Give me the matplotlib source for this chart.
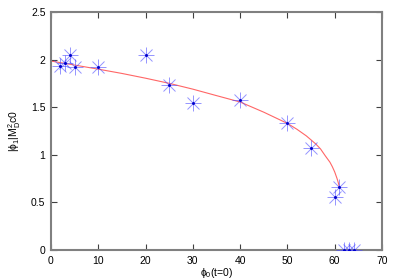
import matplotlib
matplotlib.use("Agg")
import matplotlib.pyplot as plt

plt.rcParams['font.family'] = ['Liberation Sans', 'DejaVu Sans']
plt.rcParams['mathtext.fontset'] = 'custom'
plt.rcParams['mathtext.rm'] = 'Liberation Sans'
plt.rcParams['mathtext.it'] = 'Liberation Sans'
plt.rcParams['mathtext.bf'] = 'Liberation Sans'

# data points (phi0(t=0), |phi1|/M_D^2 c0)
pts_x = [2, 3, 4, 5, 10, 20, 25, 30, 40, 50, 55, 60, 61, 62, 63, 64]
pts_y = [1.93, 1.96, 2.05, 1.92, 1.92, 2.05, 1.73, 1.54, 1.575, 1.33, 1.07, 0.56, 0.665, 0.0, 0.0, 0.0]

# fitted curve
fit_x = [0, 5, 10, 15, 20, 25, 30, 35, 40, 45, 50, 52, 54, 56, 57, 58, 59, 59.5, 60, 60.5, 60.8, 61]
fit_y = [1.985, 1.943, 1.90, 1.855, 1.805, 1.751, 1.69, 1.622, 1.555, 1.448, 1.33, 1.269, 1.199,
         1.114, 1.062, 0.99, 0.922, 0.875, 0.82, 0.75, 0.70, 0.66]

xticks = [0, 10, 20, 30, 40, 50, 60, 70]
yticks = [0, 0.5, 1, 1.5, 2, 2.5]

fig = plt.figure(figsize=(4.0, 2.8), dpi=100)
ax = fig.add_axes([0.1275, 0.107, 0.8275, 0.85])

ax.plot(fit_x, fit_y, color='#ff4040', lw=0.8, alpha=0.8, zorder=2)
ax.plot(pts_x, pts_y, ls='none', marker='+', ms=11, mew=0.7, color='#4d4dff', alpha=0.6, zorder=3)
ax.plot(pts_x, pts_y, ls='none', marker='x', ms=8, mew=0.7, color='#4d4dff', alpha=0.6, zorder=3)
ax.plot(pts_x, pts_y, ls='none', marker='.', ms=2.2, color='#0000cc', zorder=4)

ax.set_xlim(0, 70)
ax.set_ylim(0, 2.5)
ax.set_xticks(xticks)
ax.set_xticklabels([str(v) for v in xticks])
ax.set_yticks(yticks)
ax.set_yticklabels(['0', '0.5', '1', '1.5', '2', '2.5'])

for s in ax.spines.values():
    s.set_color('#808080')
    s.set_linewidth(1.5)
ax.tick_params(direction='in', length=4, width=0.8, color='#404040', labelsize=7.5,
               top=True, right=True, pad=4)

ax.set_xlabel(r'$\phi_0$(t=0)', fontsize=7.5, labelpad=0)
ax.set_ylabel(r'$|\phi_1|M^2_D c0$', fontsize=7.5, labelpad=6)

fig.savefig('out.png', dpi=100)
